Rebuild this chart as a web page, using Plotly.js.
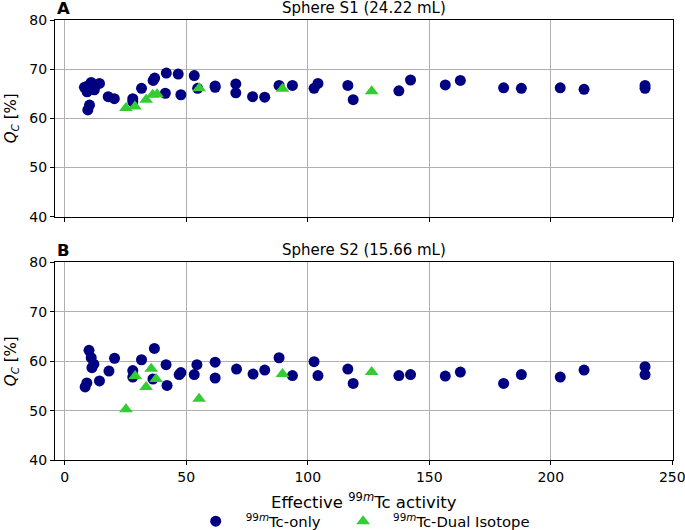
<!DOCTYPE html>
<html>
<head>
<meta charset="utf-8">
<script src="https://cdn.plot.ly/plotly-3.0.1.min.js"></script>
<style>body{margin:0;padding:0;background:#fff;} #chart{width:685px;height:530px;}</style>
</head>
<body>
<div id="chart"></div>
<script>
// Sphere S1 (24.22 mL) — 99mTc-only
const s1OnlyX = [8.1, 9.2, 9.5, 9.5, 10.9, 10.2, 12.2, 14.3, 17.9, 20.4, 28.0, 28.0, 31.6, 36.4, 37.0, 41.4, 41.8, 46.7, 47.8, 53.3, 54.7, 61.9, 61.9, 70.4, 70.4, 77.3, 82.3, 88.2, 93.7, 102.6, 104.2, 116.5, 118.7, 137.5, 142.3, 156.6, 162.8, 180.6, 187.9, 203.9, 213.7, 238.8, 238.8];
const s1OnlyY = [66.3, 65.4, 66.6, 61.7, 67.3, 62.7, 65.8, 67.1, 64.4, 64.0, 64.0, 63.4, 66.1, 67.7, 68.2, 65.1, 69.2, 69.0, 64.8, 68.7, 66.1, 66.6, 66.3, 67.0, 65.2, 64.4, 64.3, 66.7, 66.7, 66.1, 67.1, 66.7, 63.8, 65.6, 67.8, 66.8, 67.7, 66.2, 66.1, 66.2, 65.9, 66.7, 66.1];
// Sphere S1 — 99mTc-Dual Isotope
const s1DualX = [25.2, 28.9, 33.5, 36.2, 38.0, 55.3, 89.6, 126.3];
const s1DualY = [62.1, 62.4, 63.8, 64.8, 64.9, 66.1, 66.0, 65.5];

// Sphere S2 (15.66 mL) — 99mTc-only
const s2OnlyX = [8.4, 9.1, 10.0, 10.9, 11.2, 12.0, 14.3, 18.2, 20.5, 28.0, 28.0, 31.6, 36.3, 36.9, 41.7, 42.1, 47.1, 47.8, 53.3, 54.4, 61.9, 61.9, 70.7, 77.5, 82.3, 88.2, 93.7, 102.6, 104.2, 116.5, 118.7, 137.5, 142.3, 156.6, 162.8, 180.6, 187.9, 203.9, 213.7, 238.8, 238.8];
const s2OnlyY = [54.8, 55.6, 62.2, 60.7, 58.7, 59.4, 56.0, 58.0, 60.6, 58.1, 56.8, 60.3, 56.4, 62.6, 59.3, 55.1, 57.3, 57.7, 57.3, 59.3, 59.8, 56.6, 58.4, 57.4, 58.2, 60.7, 57.1, 59.9, 57.1, 58.4, 55.5, 57.1, 57.3, 57.0, 57.8, 55.5, 57.3, 56.8, 58.2, 58.9, 57.3];
// Sphere S2 — 99mTc-Dual Isotope
const s2DualX = [25.2, 29.0, 33.5, 35.6, 37.6, 55.3, 89.6, 126.3];
const s2DualY = [50.3, 57.0, 54.8, 58.5, 56.4, 52.4, 57.4, 57.8];

const xTicks = [0, 50, 100, 150, 200, 250];
const yTicks = [40, 50, 60, 70, 80];
const panelTitles = ['Sphere S1 (24.22 mL)', 'Sphere S2 (15.66 mL)'];
const panelLetters = ['A', 'B'];
const seriesNames = ['<sup>99<i>m</i></sup>Tc-only', '<sup>99<i>m</i></sup>Tc-Dual Isotope'];
const xTitle = 'Effective <sup>99<i>m</i></sup>Tc activity';
const yTitle = '<i>Q</i><sub><i>C</i></sub> [%]';

const navy = '#000080';
const green = '#32cd32';
const fam = 'DejaVu Sans, sans-serif';
const font = {family: fam, size: 14, color: '#000'};

const circ = {symbol: 'circle', size: 11, color: navy, line: {width: 0}};
const tri = {symbol: 'triangle-up', size: 12, color: green, line: {width: 0}};

const traces = [
  {x: s1OnlyX, y: s1OnlyY, xaxis: 'x', yaxis: 'y', mode: 'markers', type: 'scatter', marker: circ, name: seriesNames[0], showlegend: true, legend: 'legend', legendgroup: 'a'},
  {x: s1DualX, y: s1DualY, xaxis: 'x', yaxis: 'y', mode: 'markers', type: 'scatter', marker: tri, name: seriesNames[1], showlegend: true, legend: 'legend2', legendgroup: 'b'},
  {x: s2OnlyX, y: s2OnlyY, xaxis: 'x2', yaxis: 'y2', mode: 'markers', type: 'scatter', marker: circ, name: seriesNames[0], showlegend: false, legendgroup: 'a'},
  {x: s2DualX, y: s2DualY, xaxis: 'x2', yaxis: 'y2', mode: 'markers', type: 'scatter', marker: tri, name: seriesNames[1], showlegend: false, legendgroup: 'b'}
];

const axCommon = {
  showline: true, mirror: true, linecolor: '#000', linewidth: 1,
  ticks: 'outside', ticklen: 4, tickwidth: 1, tickcolor: '#000',
  showgrid: true, gridcolor: '#b0b0b0', gridwidth: 1, zeroline: false,
  tickfont: font, automargin: false, ticklabeloverflow: 'allow'
};

const topDom = [0.553, 1];
const botDom = [0, 0.449];

const legendCommon = {orientation: 'h', xanchor: 'left', yref: 'container', y: 0.016, yanchor: 'middle',
  font: {family: fam, size: 14.8}, itemwidth: 50, bgcolor: 'rgba(0,0,0,0)'};

const layout = {
  width: 685, height: 530,
  margin: {l: 55, r: 12, t: 20, b: 70},
  paper_bgcolor: '#fff', plot_bgcolor: '#fff',
  font: font,
  xaxis: Object.assign({}, axCommon, {domain: [0, 1], anchor: 'y', range: [-4, 250.3], tickvals: xTicks, showticklabels: false}),
  yaxis: Object.assign({}, axCommon, {domain: topDom, anchor: 'x', range: [40, 80], tickvals: yTicks,
    title: {text: yTitle, font: {family: fam, size: 15}, standoff: 9}}),
  xaxis2: Object.assign({}, axCommon, {domain: [0, 1], anchor: 'y2', range: [-4, 250.3], tickvals: xTicks}),
  yaxis2: Object.assign({}, axCommon, {domain: botDom, anchor: 'x2', range: [40, 80], tickvals: yTicks,
    title: {text: yTitle, font: {family: fam, size: 15}, standoff: 9}}),
  showlegend: true,
  legend: Object.assign({}, legendCommon, {x: 0.2115}),
  legend2: Object.assign({}, legendCommon, {x: 0.45}),
  annotations: [
    {text: xTitle, xref: 'paper', yref: 'paper', x: 0.5, y: 0, yshift: -41, xanchor: 'center', yanchor: 'middle', showarrow: false, font: {family: fam, size: 16.5}},
    {text: panelTitles[0], xref: 'paper', yref: 'paper', x: 0.5, y: topDom[1], yshift: 1, xanchor: 'center', yanchor: 'bottom', showarrow: false, font: {family: fam, size: 15}},
    {text: panelTitles[1], xref: 'paper', yref: 'paper', x: 0.5, y: botDom[1], yshift: 1, xanchor: 'center', yanchor: 'bottom', showarrow: false, font: {family: fam, size: 15}},
    {text: '<b>' + panelLetters[0] + '</b>', xref: 'paper', yref: 'paper', x: 0, y: topDom[1], xshift: 0, yshift: 0, xanchor: 'left', yanchor: 'bottom', showarrow: false, font: {family: fam, size: 16.5}},
    {text: '<b>' + panelLetters[1] + '</b>', xref: 'paper', yref: 'paper', x: 0, y: botDom[1], xshift: 0, yshift: 0, xanchor: 'left', yanchor: 'bottom', showarrow: false, font: {family: fam, size: 16.5}}
  ]
};

Plotly.newPlot('chart', traces, layout, {displayModeBar: false, staticPlot: true});
</script>
</body>
</html>
